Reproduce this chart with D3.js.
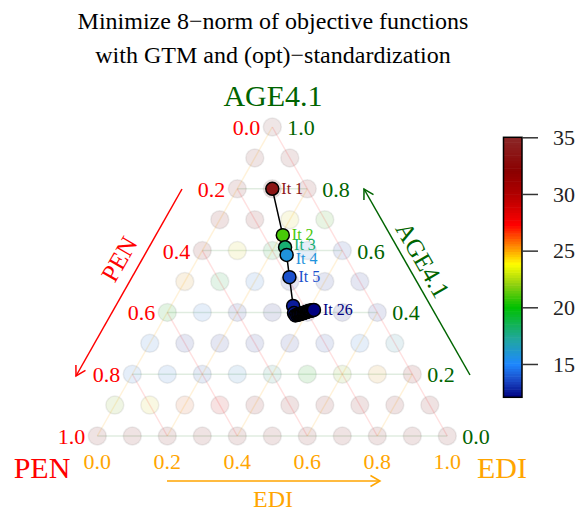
<!DOCTYPE html>
<html>
<head>
<meta charset="utf-8">
<script src="https://cdn.jsdelivr.net/npm/d3@7"></script>
<style>
  body { margin: 0; background: #fff; }
  text { font-family: 'Liberation Serif', 'DejaVu Serif', serif; }
</style>
</head>
<body>
<svg id="chart" width="577" height="512"></svg>
<script>
// ---- data ----
var titleLines = ['Minimize 8\u2212norm of objective functions', 'with GTM and (opt)\u2212standardization'];
var tickValues = [0, 0.2, 0.4, 0.6, 0.8, 1.0];
var gridLineValues = [0, 0.2, 0.4, 0.6, 0.8];
var colorTicks = [15, 20, 25, 30, 35];
var colorDomain = [12.06, 35];

// grid of objective values, one array per AGE level (1.0 down to 0.0), EDI increasing left to right
var gridRows = [
  [35],
  [34, 34],
  [33, 33, 33],
  [32, 32, 24, 21],
  [32, 24, 19, 15, 13.5],
  [25, 19, 15, 13, 13, 13],
  [20, 15, 13, 12.5, 12.3, 12.5, 13],
  [15, 13, 13, 13, 13, 13.5, 15, 16.5],
  [15, 15, 14, 15.5, 17.5, 20, 22, 25, 31],
  [22, 24, 26, 28, 31, 32, 32, 32, 32, 32],
  [33, 33, 33, 33, 33, 33, 33, 33, 33, 33, 33]
];

// optimisation path
var iterPEN = [0.100, 0.145, 0.158, 0.166, 0.194, 0.230, 0.239, 0.239, 0.233, 0.229, 0.226, 0.222, 0.219,
               0.216, 0.212, 0.209, 0.206, 0.203, 0.200, 0.197, 0.194, 0.191, 0.188, 0.185, 0.181, 0.177];
var iterAGE = [0.800, 0.650, 0.611, 0.586, 0.514, 0.421, 0.398, 0.390, 0.392, 0.393, 0.394, 0.395, 0.396,
               0.397, 0.398, 0.399, 0.400, 0.401, 0.402, 0.403, 0.404, 0.405, 0.405, 0.406, 0.407, 0.408];
var iterValue = [33.5, 21.0, 18.0, 15.8, 13.7, 12.6, 12.5, 12.4, 12.35, 12.3, 12.28, 12.25, 12.22,
                 12.2, 12.18, 12.16, 12.15, 12.13, 12.12, 12.11, 12.1, 12.09, 12.08, 12.07, 12.07, 12.06];
var labelledIters = [1, 2, 3, 4, 5, 26];

var colPEN = '#ff0000', colAGE = '#006400', colEDI = '#ffa500';
var serif = "'Liberation Serif', 'DejaVu Serif', serif";

var svg = d3.select('#chart').style('font-family', serif);

// ternary -> pixel
var xScale = d3.scaleLinear().domain([0, 1]).range([97.3, 447.3]);
var yScale = d3.scaleLinear().domain([0, 1]).range([436, 127]);
function px(pen, age) { var edi = 1 - pen - age; return xScale(edi + age / 2); }
function py(pen, age) { return yScale(age); }

var colorScale = d3.scaleLinear()
  .domain([12.06, 13.5, 15, 17.3, 20, 22, 23.8, 25, 27.3, 30, 32, 35])
  .range(['#000080', '#1a47c4', '#1e88ff', '#20a89a', '#00c000', '#90d010', '#ffff00',
          '#ffa500', '#ff0000', '#b00000', '#8b0000', '#8b2828'])
  .clamp(true);

// title
svg.append('g').selectAll('text')
  .data(titleLines)
  .enter().append('text')
  .attr('x', 273).attr('y', function(d, i) { return 29 + i * 34; })
  .attr('text-anchor', 'middle')
  .style('font-size', '24px')
  .text(function(d) { return d; });

// grid lines
var lines = svg.append('g');
gridLineValues.forEach(function(k) {
  // AGE constant
  lines.append('line')
    .attr('x1', px(1 - k, k)).attr('y1', py(1 - k, k))
    .attr('x2', px(0, k)).attr('y2', py(0, k))
    .attr('stroke', colAGE).attr('stroke-opacity', 0.12).attr('stroke-width', 1.5);
  // PEN constant
  lines.append('line')
    .attr('x1', px(k, 1 - k)).attr('y1', py(k, 1 - k))
    .attr('x2', px(k, 0)).attr('y2', py(k, 0))
    .attr('stroke', colPEN).attr('stroke-opacity', 0.12).attr('stroke-width', 1.5);
  // EDI constant
  lines.append('line')
    .attr('x1', px(1 - k, 0)).attr('y1', py(1 - k, 0))
    .attr('x2', px(0, 1 - k)).attr('y2', py(0, 1 - k))
    .attr('stroke', colEDI).attr('stroke-opacity', 0.15).attr('stroke-width', 1.5);
});

// grid points
var gridData = [];
gridRows.forEach(function(row, r) {
  var age = (10 - r) / 10;
  row.forEach(function(v, j) {
    var edi = j / 10;
    gridData.push({ pen: 1 - age - edi, age: age, value: v });
  });
});

var dots = svg.append('g').selectAll('g')
  .data(gridData)
  .enter().append('g');
dots.append('circle')
  .attr('cx', function(d) { return px(d.pen, d.age); })
  .attr('cy', function(d) { return py(d.pen, d.age); })
  .attr('r', 9)
  .attr('fill', '#000').attr('fill-opacity', 0.025)
  .attr('stroke', '#999').attr('stroke-opacity', 0.18).attr('stroke-width', 1.5);
dots.append('circle')
  .attr('cx', function(d) { return px(d.pen, d.age); })
  .attr('cy', function(d) { return py(d.pen, d.age); })
  .attr('r', 9)
  .attr('fill', function(d) { return colorScale(d.value); })
  .attr('fill-opacity', 0.09);

// tick labels
var ticks = svg.append('g').style('font-size', '22px');
ticks.selectAll('.tpen').data(tickValues).enter().append('text')
  .attr('x', function(d) { return px(d, 1 - d) - 12; })
  .attr('y', function(d) { return py(d, 1 - d) + 8; })
  .attr('text-anchor', 'end').attr('fill', colPEN)
  .text(function(d) { return d.toFixed(1); });
ticks.selectAll('.tage').data(tickValues).enter().append('text')
  .attr('x', function(d) { return px(0, d) + 15; })
  .attr('y', function(d) { return py(0, d) + 8; })
  .attr('text-anchor', 'start').attr('fill', colAGE)
  .text(function(d) { return d.toFixed(1); });
ticks.selectAll('.tedi').data(tickValues).enter().append('text')
  .attr('x', function(d) { return px(1 - d, 0); })
  .attr('y', function(d) { return py(1 - d, 0) + 33; })
  .attr('text-anchor', 'middle').attr('fill', colEDI)
  .text(function(d) { return d.toFixed(1); });

// corner labels
svg.append('text').attr('x', 273).attr('y', 106).attr('text-anchor', 'middle')
  .attr('fill', colAGE).style('font-size', '30px').text('AGE4.1');
svg.append('text').attr('x', 42).attr('y', 478).attr('text-anchor', 'middle')
  .attr('fill', colPEN).style('font-size', '30px').text('PEN');
svg.append('text').attr('x', 502).attr('y', 478).attr('text-anchor', 'middle')
  .attr('fill', colEDI).style('font-size', '30px').text('EDI');

// axis arrows
function arrow(x1, y1, x2, y2, col) {
  var g = svg.append('g').attr('stroke', col).attr('stroke-width', 1.5).attr('fill', 'none');
  g.append('line').attr('x1', x1).attr('y1', y1).attr('x2', x2).attr('y2', y2);
  var a = Math.atan2(y2 - y1, x2 - x1), L = 11, w = Math.PI / 6;
  g.append('path').attr('d', 'M' + (x2 - L * Math.cos(a - w)) + ',' + (y2 - L * Math.sin(a - w)) +
    'L' + x2 + ',' + y2 + 'L' + (x2 - L * Math.cos(a + w)) + ',' + (y2 - L * Math.sin(a + w)));
}
arrow(182, 189, 76, 376, colPEN);
arrow(470, 375, 364, 189, colAGE);
arrow(167, 481, 380, 481, colEDI);

svg.append('text').attr('transform', 'translate(119,259) rotate(-60)')
  .attr('text-anchor', 'middle').attr('dy', '0.35em')
  .attr('fill', colPEN).style('font-size', '25px').text('PEN');
svg.append('text').attr('transform', 'translate(423,260) rotate(60)')
  .attr('text-anchor', 'middle').attr('dy', '0.35em')
  .attr('fill', colAGE).style('font-size', '25px').text('AGE4.1');
svg.append('text').attr('x', 273).attr('y', 507).attr('text-anchor', 'middle')
  .attr('fill', colEDI).style('font-size', '24px').text('EDI');

// path
var iters = iterPEN.map(function(p, i) {
  return { it: i + 1, pen: p, age: iterAGE[i], value: iterValue[i] };
});
var pathLine = d3.line()
  .x(function(d) { return px(d.pen, d.age); })
  .y(function(d) { return py(d.pen, d.age); });
svg.append('path').datum(iters)
  .attr('d', pathLine)
  .attr('fill', 'none').attr('stroke', '#000').attr('stroke-width', 1.5);

svg.append('g').selectAll('circle')
  .data(iters)
  .enter().append('circle')
  .attr('cx', function(d) { return px(d.pen, d.age); })
  .attr('cy', function(d) { return py(d.pen, d.age); })
  .attr('r', 6.5)
  .attr('fill', function(d) { return colorScale(d.value); })
  .attr('stroke', '#000').attr('stroke-width', 1.5);

svg.append('g').selectAll('text')
  .data(iters.filter(function(d) { return labelledIters.indexOf(d.it) >= 0; }))
  .enter().append('text')
  .attr('x', function(d) { return px(d.pen, d.age) + 9; })
  .attr('y', function(d) { return py(d.pen, d.age) + (d.it === 4 ? 9 : d.it === 3 ? 3 : 5); })
  .attr('fill', function(d) { return colorScale(d.value); })
  .style('font-size', '16px')
  .text(function(d) { return 'It ' + d.it; });

// colour bar
var cbY = d3.scaleLinear().domain(colorDomain).range([397.3, 137.3]);
var cb = svg.append('g');
var steps = d3.range(0, 100).map(function(i) {
  return colorDomain[0] + (colorDomain[1] - colorDomain[0]) * i / 100;
});
var stepH = (colorDomain[1] - colorDomain[0]) / 100;
cb.selectAll('rect').data(steps).enter().append('rect')
  .attr('x', 503.5).attr('width', 18.5)
  .attr('y', function(d) { return cbY(d + stepH) - 0.3; })
  .attr('height', function(d) { return cbY(d) - cbY(d + stepH) + 0.6; })
  .attr('fill', function(d) { return colorScale(d + stepH / 2); });
cb.append('rect').attr('x', 503.5).attr('y', 137.3).attr('width', 18.5).attr('height', 260)
  .attr('fill', 'none').attr('stroke', '#000').attr('stroke-width', 1.5);

var cbAxis = svg.append('g').attr('transform', 'translate(522,0)')
  .call(d3.axisRight(cbY).tickValues(colorTicks).tickSize(16).tickPadding(15));
cbAxis.select('.domain').remove();
cbAxis.attr('font-family', serif);
cbAxis.selectAll('line').attr('stroke', '#333').attr('stroke-width', 1.5);
cbAxis.selectAll('text').style('font-size', '22px').attr('fill', '#222');
</script>
</body>
</html>
